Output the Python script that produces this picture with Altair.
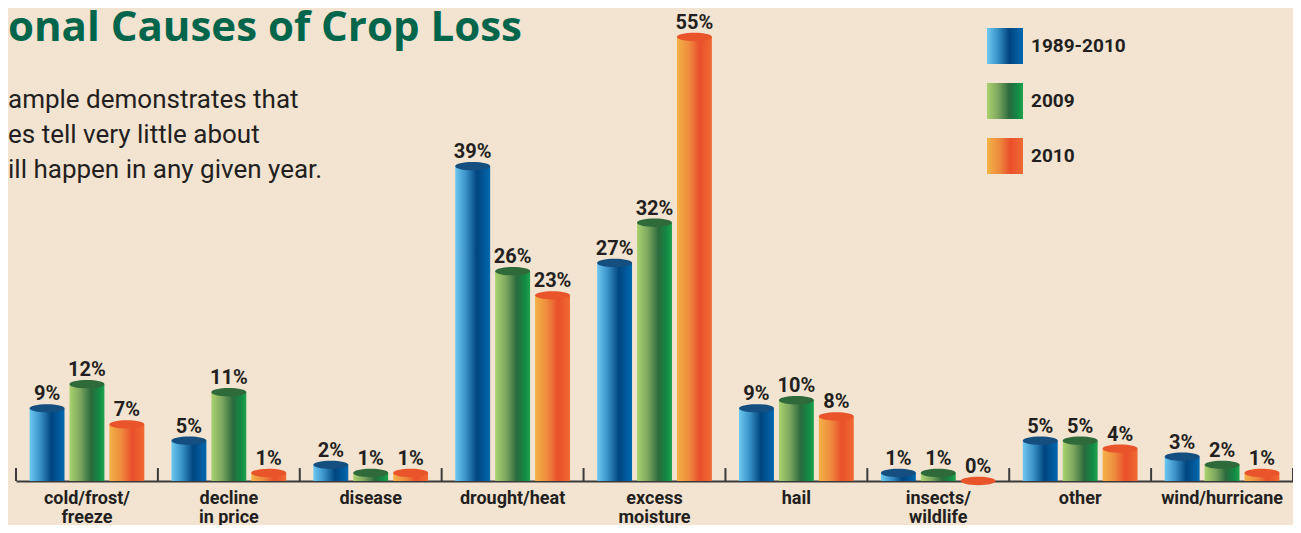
import altair as alt
import pandas as pd

categories = ["cold/frost/|freeze", "decline|in price", "disease", "drought/heat",
              "excess|moisture", "hail", "insects/|wildlife", "other", "wind/hurricane"]
series = ["1989-2010", "2009", "2010"]
v_1989_2010 = [9, 5, 2, 39, 27, 9, 1, 5, 3]
v_2009 = [12, 11, 1, 26, 32, 10, 1, 5, 2]
v_2010 = [7, 1, 1, 23, 55, 8, 0, 4, 1]

title_text = "onal Causes of Crop Loss"
subtitle_lines = ["ample demonstrates that", "es tell very little about",
                  "ill happen in any given year."]

rows = []
for s, vals in zip(series, [v_1989_2010, v_2009, v_2010]):
    for c, v in zip(categories, vals):
        rows.append({"cat": c, "series": s, "value": v, "label": f"{v}%"})
df = pd.DataFrame(rows)

grad_stops = {
    "1989-2010": [(0, "#6DC8F0"), (0.3, "#3A92C8"), (0.62, "#00457F"), (1, "#0069AF")],
    "2009": [(0, "#A9D26E"), (0.3, "#7FA860"), (0.62, "#2A6A3D"), (0.85, "#128A45"), (1, "#1FA34C")],
    "2010": [(0, "#F3B246"), (0.35, "#EE8A3E"), (0.65, "#E94F2B"), (1, "#F06A32")],
}
top_colors = ["#154F80", "#2F6A3A", "#E9542B"]


def grad_expr(stops):
    st = ", ".join("{offset: %s, color: '%s'}" % (o, c) for o, c in stops)
    return {"expr": "{gradient: 'linear', x1: 0, y1: 0, x2: 1, y2: 0, stops: [%s]}" % st}


BG = "#F3E4D2"
DARK = "#231F20"
NARROW = "Roboto, sans-serif"

x_enc = alt.X("cat:N", sort=categories,
              scale=alt.Scale(paddingInner=0, paddingOuter=0),
              axis=alt.Axis(title=None, labelAngle=0, ticks=False, domainColor="#3A3A3A",
                            domainWidth=2, labelFont=NARROW, labelFontSize=18,
                            labelFontWeight="bold", labelColor=DARK, labelPadding=8,
                            labelLineHeight=19, labelBaseline="top",
                            labelExpr="split(datum.value, '|')"))
xo_enc = alt.XOffset("series:N", sort=series,
                     scale=alt.Scale(domain=series, paddingInner=0.125, paddingOuter=0.34))
y_enc = alt.Y("value:Q", scale=alt.Scale(domain=[0, 58.6], nice=False, zero=True),
              axis=None)

bars = alt.Chart(df).mark_bar().encode(
    x=x_enc, xOffset=xo_enc, y=y_enc,
    color=alt.Color("series:N", sort=series,
                    scale=alt.Scale(domain=series,
                                    range=[grad_expr(grad_stops[s]) for s in series]),
                    legend=alt.Legend(title=None, orient="none", legendX=971, legendY=20,
                                      symbolType="square", symbolSize=1296,
                                      symbolStrokeWidth=0, labelFont=NARROW,
                                      labelFontSize=19, labelFontWeight="bold",
                                      labelColor=DARK, labelOffset=8, rowPadding=19,
                                      padding=0)),
)

ellipse = "M -1 0 A 1 0.24 0 1 1 1 0 A 1 0.24 0 1 1 -1 0 Z"
tops = alt.Chart(df).mark_point(shape=ellipse, size=1225, filled=True, opacity=1,
                                strokeWidth=0).encode(
    x=x_enc, xOffset=xo_enc, y=y_enc,
    fill=alt.Fill("series:N", sort=series,
                  scale=alt.Scale(domain=series, range=top_colors), legend=None),
)

labels = alt.Chart(df).mark_text(baseline="alphabetic", dy=-8, font=NARROW, fontSize=20,
                                 fontWeight="bold", color=DARK).encode(
    x=x_enc, xOffset=xo_enc, y=y_enc, text="label:N")

tick_df = pd.DataFrame({"cat": categories})
ticks = alt.Chart(tick_df).mark_rule(color="#3A3A3A", strokeWidth=2).encode(
    x=alt.X("cat:N", sort=categories, bandPosition=0),
    y=alt.datum(0), y2=alt.datum(1.6))
ticks_end = alt.Chart(tick_df.tail(1)).mark_rule(color="#3A3A3A", strokeWidth=2).encode(
    x=alt.X("cat:N", sort=categories, bandPosition=1),
    y=alt.datum(0), y2=alt.datum(1.6))

title = alt.Chart(alt.Data(values=[{}])).mark_text(
    text=title_text, align="left", baseline="alphabetic", font="Open Sans",
    fontSize=42, fontWeight="bold", color="#00664B").encode(
    x=alt.value(-8), y=alt.value(33))

subtitle = alt.Chart(alt.Data(values=[{}])).mark_text(
    text="\n".join(subtitle_lines), lineBreak="\n", lineHeight=35, align="left",
    baseline="alphabetic", font="Roboto", fontSize=26, color=DARK).encode(
    x=alt.value(-8), y=alt.value(100))

chart = alt.layer(bars, tops, labels, ticks, ticks_end, title, subtitle).resolve_scale(
    color="independent", fill="independent"
).properties(
    width=1277, height=473,
    autosize=alt.AutoSizeParams(type="none"),
    padding={"left": 8, "top": 0, "right": 0, "bottom": 44},
    background=BG,
).configure_view(stroke=None)

chart.save("out.html", embed_options={"renderer": "svg", "actions": False})
